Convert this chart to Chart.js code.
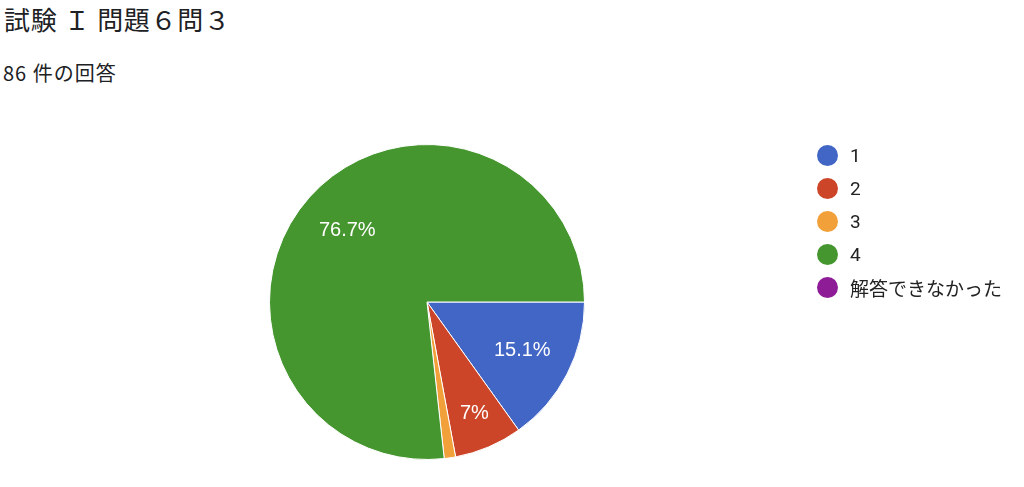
<!DOCTYPE html>
<html lang="ja">
<head>
<meta charset="UTF-8">
<title>試験Ｉ 問題６問３</title>
<script src="https://cdn.jsdelivr.net/npm/chart.js"></script>
<style>
  body { margin: 0; background: #fff; font-family: "Noto Sans CJK JP", "Noto Sans", sans-serif; color: #202124; }
  #title { position: absolute; left: 4px; top: 0px; font-size: 26px; letter-spacing: 0.7px; white-space: nowrap; }
  #sub { position: absolute; left: 3px; top: 58px; font-size: 20px; letter-spacing: 1px; white-space: nowrap; }
  #wrap { position: absolute; left: 0; top: 0; width: 1024px; height: 487px; }
  #legend { position: absolute; left: 817px; top: 139px; }
  .item { height: 33px; display: flex; align-items: center; }
  .dot { width: 21px; height: 21px; border-radius: 50%; margin-right: 12px; }
  .lab { font-size: 19px; font-family: Roboto, "Noto Sans CJK JP", sans-serif; color: #222; }
</style>
</head>
<body>
<div id="title">試験 Ｉ 問題６問３</div>
<div id="sub">86 件の回答</div>
<div id="wrap"><canvas id="myChart"></canvas></div>
<div id="legend"></div>
<script>
const labels = ['1', '2', '3', '4', '解答できなかった'];
const counts = [13, 6, 1, 66, 0];
const colors = ['#4266c6', '#cc4528', '#f2a03a', '#46962f', '#8e1c97'];

// percent labels inside the slices
const sliceLabels = {
	id: 'sliceLabels',
	afterDatasetsDraw(chart) {
		const ctx = chart.ctx;
		const meta = chart.getDatasetMeta(0);
		const total = counts.reduce((a, b) => a + b, 0);
		ctx.save();
		ctx.fillStyle = '#fff';
		ctx.font = '20px Arial, "Liberation Sans", sans-serif';
		ctx.textAlign = 'center';
		ctx.textBaseline = 'middle';
		meta.data.forEach((arc, i) => {
			const pct = counts[i] / total * 100;
			if (pct < 5) return;
			const p = arc.getProps(['x', 'y', 'startAngle', 'endAngle', 'outerRadius'], true);
			const mid = (p.startAngle + p.endAngle) / 2;
			const r = p.outerRadius * (pct < 10 ? 0.77 : 0.68);
			const txt = (Math.round(pct * 10) / 10) + '%';
			ctx.fillText(txt, p.x + Math.cos(mid) * r, p.y + Math.sin(mid) * r);
		});
		ctx.restore();
	}
};

const ctx = document.getElementById('myChart').getContext('2d');
const myChart = new Chart(ctx, {
	type: 'pie',
	data: {
		labels: labels,
		datasets: [{
			data: counts,
			backgroundColor: colors,
			borderColor: '#fff',
			borderWidth: 1
		}]
	},
	options: {
		responsive: true,
		maintainAspectRatio: false,
		animation: false,
		rotation: 90,
		layout: { padding: { left: 269, top: 144, right: 439, bottom: 27 } },
		plugins: {
			legend: { display: false },
			tooltip: { enabled: false }
		}
	},
	plugins: [sliceLabels]
});

// legend
const legend = document.getElementById('legend');
labels.forEach((l, i) => {
	const row = document.createElement('div');
	row.className = 'item';
	row.innerHTML = '<div class="dot" style="background:' + colors[i] + '"></div><span class="lab">' + l + '</span>';
	legend.appendChild(row);
});
</script>
</body>
</html>
